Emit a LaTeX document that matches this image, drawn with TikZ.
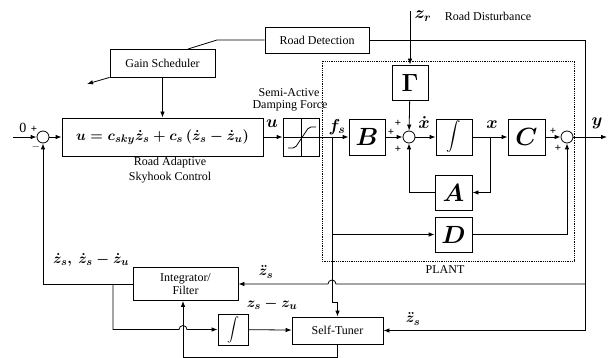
\documentclass[tikz,border=0pt]{standalone}
\usepackage{amsmath}
\usepackage{exscale}
\usepackage{fontspec}
\setmainfont{Liberation Serif}
\usetikzlibrary{arrows.meta}
\begin{document}
\begin{tikzpicture}[x=1pt,y=-1pt, line width=0.8pt,
 blk/.style={draw, inner sep=0pt},
 sumj/.style={draw, circle, minimum size=12pt, inner sep=0pt},
 arr/.style={-{Latex[length=6pt,width=4.5pt]}},
 lbl/.style={font=\fontsize{12}{13}\selectfont, align=center, inner sep=0pt},
 sym/.style={font=\fontsize{24}{24}\selectfont\boldmath},
 mlab/.style={font=\fontsize{18}{18}\selectfont\boldmath, inner sep=0pt},
 mlab2/.style={font=\fontsize{15}{15}\selectfont\boldmath, inner sep=0pt},
 sgn/.style={font=\fontsize{11}{11}\selectfont\bfseries, inner sep=0pt}]
\useasboundingbox (0,0) rectangle (613,358);

% blocks
\node[blk,lbl,minimum width=104pt,minimum height=26pt] (roaddet) at (317,40) {Road Detection};
\node[blk,lbl,minimum width=105pt,minimum height=28pt] (gain) at (162.5,63) {Gain Scheduler};
\node[blk,minimum width=201pt,minimum height=38pt,font=\fontsize{15}{15}\selectfont\boldmath] (ctrl) at (162.5,137) {$u=c_{sky}\dot z_s+c_s\left(\dot z_s-\dot z_u\right)$};
\node[blk,minimum width=36pt,minimum height=38pt] (sat) at (301,137) {};
\node[blk,sym,minimum width=36pt,minimum height=36pt] (B) at (367,137) {$B$};
\node[blk,sym,minimum width=36pt,minimum height=35pt] (G) at (410,82.5) {$\Gamma$};
\node[blk,minimum width=36pt,minimum height=36pt,font=\fontsize{14}{14}\selectfont\boldmath] (I1) at (454,137) {$\displaystyle\int$};
\node[blk,sym,minimum width=37pt,minimum height=36pt] (C) at (526.5,137) {$C$};
\node[blk,sym,minimum width=37pt,minimum height=35pt] (A) at (453.5,192.5) {$A$};
\node[blk,sym,minimum width=37pt,minimum height=35pt] (D) at (453.5,234.5) {$D$};
\node[sumj] (s1) at (43,137) {};
\node[sumj] (s2) at (409,137) {};
\node[sumj] (s3) at (567,137) {};
\node[blk,lbl,minimum width=105pt,minimum height=33pt] (intf) at (185.5,284) {Integrator/\\Filter};
\node[blk,minimum width=30pt,minimum height=31pt,font=\fontsize{12}{12}\selectfont\boldmath] (I2) at (233,329.5) {$\displaystyle\int$};
\node[blk,lbl,minimum width=91pt,minimum height=27pt] (st) at (337.5,330.5) {Self-Tuner};

% plant boundary
\draw[densely dotted] (322,61) rectangle (574,261);

% saturation symbol
\draw[line width=0.6pt] (sat.north) -- (sat.south);
\draw[line width=0.6pt] (sat.west) -- (sat.east);
\draw[rounded corners=2pt] (288,148) -- (295,148) -- (309,127) -- (316,127);

% coordinates
\coordinate (in0) at (13,137);
\coordinate (zr) at (410,11);
\coordinate (yout) at (607,137);
\coordinate (gs) at (87,84);
\coordinate (gtop) at (188,49);
\coordinate (fsb) at (332,137);
\coordinate (xb) at (490,137);
\coordinate (rr) at (585,40);
\coordinate (fb) at (113,284);

% connectors
\draw[arr] (in0) -- (s1);
\draw[arr] (s1) -- (ctrl);
\draw[arr] (gain) -- (ctrl);
\draw (roaddet.west) -- (217,40) -- (gtop);
\draw[arr] (gain.south west) -- (gs);
\draw[arr] (ctrl) -- (sat);
\draw[arr] (sat) -- (B);
\draw[arr] (B) -- (s2);
\draw[arr] (zr) -- (G);
\draw[arr] (G) -- (s2);
\draw[arr] (s2) -- (I1);
\draw[arr] (I1) -- (C);
\draw[arr] (xb) |- (A);
\draw[arr] (A) -| (s2);
\draw[arr] (C) -- (s3);
\draw[arr] (D) -| (s3);
\draw[arr] (s3) -- (yout);
\draw[arr] (fsb |- D) -- (D);
\draw[arr] (fsb) -- ++(0,165) -| (st.north);
\draw[arr] (roaddet) -- (rr) |- (st);
\draw[arr] (rr |- intf) -- (336,284) arc(0:-180:4) -- (intf);
\draw[arr] (intf) -| (s1);
\draw[arr] (fb) -- (fb |- I2) -- (179,329.5) arc(180:360:4) -- (I2);
\draw[arr] (I2) -- (st);
\draw[arr] (st.south) -- ++(0,13) -| ([xshift=-2.5pt]intf.south);

% labels
\node[font=\fontsize{14}{14}\selectfont, inner sep=0pt] at (23,128) {0};
\node[sgn] at (34,129) {+};
\node[sgn] at (36,147) {$-$};
\node[sgn] at (391,132) {+};
\node[sgn] at (398,123) {+};
\node[sgn] at (398,149) {+};
\node[sgn] at (553,131) {+};
\node[sgn] at (558,148) {+};
\node[mlab] at (272,124) {$u$};
\node[lbl] at (289,93) {Semi-Active};
\node[lbl] at (290,106) {Damping Force};
\node[lbl] at (170,163) {Road Adaptive};
\node[lbl] at (170,178) {Skyhook Control};
\node[mlab] at (337,127) {$f_s$};
\node[mlab] at (424,123) {$\dot x$};
\node[mlab] at (492,125) {$x$};
\node[mlab] at (597,123) {$y$};
\node[mlab] at (423,16) {$z_r$};
\node[lbl] at (488,16) {Road Disturbance};
\node[lbl] at (445,270) {PLANT};
\node[mlab2] at (91,260) {$\dot z_s,\ \dot z_s-\dot z_u$};
\node[mlab2] at (266,272) {$\ddot z_s$};
\node[mlab2] at (272,304) {$z_s-z_u$};
\node[mlab2] at (413,319) {$\ddot z_s$};
\end{tikzpicture}
\end{document}
